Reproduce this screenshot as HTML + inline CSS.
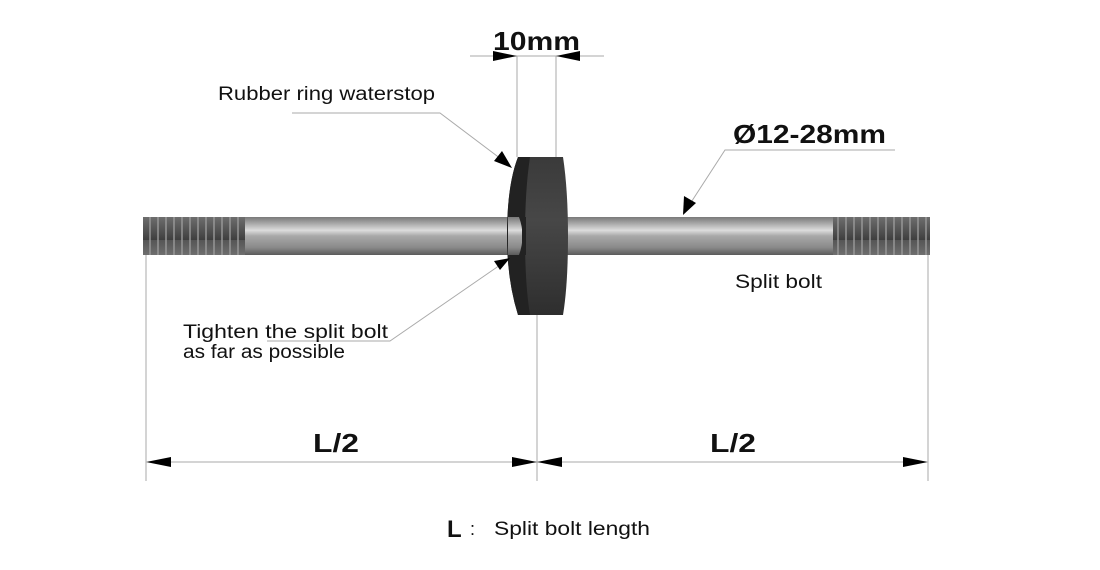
<!DOCTYPE html>
<html><head><meta charset="utf-8"><style>
html,body{margin:0;padding:0;background:#fff;}
svg{display:block;}
</style></head><body>
<svg width="1100" height="570" viewBox="0 0 1100 570" xmlns="http://www.w3.org/2000/svg">
<defs>
<linearGradient id="rod" x1="0" y1="0" x2="0" y2="1">
<stop offset="0" stop-color="#7a7a7a"/>
<stop offset="0.12" stop-color="#9a9a9a"/>
<stop offset="0.35" stop-color="#dcdcdc"/>
<stop offset="0.5" stop-color="#a8a8a8"/>
<stop offset="0.8" stop-color="#8a8a8a"/>
<stop offset="1" stop-color="#5a5a5a"/>
</linearGradient>
<linearGradient id="thr" x1="0" y1="0" x2="0" y2="1">
<stop offset="0" stop-color="#555"/>
<stop offset="0.4" stop-color="#707070"/>
<stop offset="1" stop-color="#3e3e3e"/>
</linearGradient>
<pattern id="tp" width="8" height="40" patternUnits="userSpaceOnUse">
<rect width="8" height="40" fill="url(#thr)"/>
<rect x="5" width="2" height="40" fill="#9a9a9a" opacity="0.7"/>
</pattern>
<linearGradient id="ringb" x1="0" y1="0" x2="0" y2="1">
<stop offset="0" stop-color="#3a3a3a"/>
<stop offset="0.4" stop-color="#474747"/>
<stop offset="1" stop-color="#2e2e2e"/>
</linearGradient>
</defs>

<rect x="143" y="217" width="382" height="38" fill="url(#rod)"/>
<rect x="143" y="217" width="102" height="38" fill="url(#tp)"/>
<rect x="560" y="217" width="370" height="38" fill="url(#rod)"/>
<rect x="833" y="217" width="97" height="38" fill="url(#tp)"/>

<!-- ring -->
<path d="M518 157 L563 157 Q568 190 568 236 Q568 285 563 315 L518 315 Q507 280 507 236 Q507 185 518 157 Z" fill="url(#ringb)"/>
<path d="M518 157 L530 157 Q525 190 525 236 Q525 285 530 315 L518 315 Q507 280 507 236 Q507 185 518 157 Z" fill="#222"/>
<rect x="508" y="217" width="14" height="38" fill="url(#rod)"/>
<path d="M519 217 Q526 236 519 255 L526 255 L526 217 Z" fill="#222"/>

<g stroke="#aaa" stroke-width="1" fill="none">
<line x1="470" y1="56" x2="604" y2="56"/>
<line x1="517" y1="56" x2="517" y2="157"/>
<line x1="556" y1="56" x2="556" y2="157"/>
<polyline points="292,113 440,113 505,162"/>
<polyline points="895,150 725,150 688,207"/>
<polyline points="267,341 390,341 503,263"/>
<line x1="146" y1="255" x2="146" y2="481"/>
<line x1="928" y1="255" x2="928" y2="481"/>
<line x1="537" y1="315" x2="537" y2="481"/>
<line x1="150" y1="462" x2="925" y2="462"/>
</g>
<g fill="#000">
<polygon points="493,51 517,56 493,61"/>
<polygon points="580,51 556,56 580,61"/>
<polygon points="146,462 171,457 171,467"/>
<polygon points="537,462 512,457 512,467"/>
<polygon points="537,462 562,457 562,467"/>
<polygon points="928,462 903,457 903,467"/>
<polygon points="512,168 494,161 502,151"/>
<polygon points="683,215 684,196 696,203"/>
<polygon points="510,258 500,270 494,261"/>
</g>

<g font-family="'Liberation Sans', sans-serif" fill="#111">
<text x="493" y="50" font-size="26" font-weight="bold" textLength="87" lengthAdjust="spacingAndGlyphs">10mm</text>
<text x="218" y="100" font-size="19" textLength="217" lengthAdjust="spacingAndGlyphs">Rubber ring waterstop</text>
<text x="733" y="143" font-size="26" font-weight="bold" textLength="153" lengthAdjust="spacingAndGlyphs">Ø12-28mm</text>
<text x="735" y="288" font-size="19" textLength="87" lengthAdjust="spacingAndGlyphs">Split bolt</text>
<text x="183" y="338" font-size="19" textLength="205" lengthAdjust="spacingAndGlyphs">Tighten the split bolt</text>
<text x="183" y="358" font-size="19" textLength="162" lengthAdjust="spacingAndGlyphs">as far as possible</text>
<text x="313" y="452" font-size="26" font-weight="bold" textLength="46" lengthAdjust="spacingAndGlyphs">L/2</text>
<text x="710" y="452" font-size="26" font-weight="bold" textLength="46" lengthAdjust="spacingAndGlyphs">L/2</text>
<text x="447" y="537" font-size="24" font-weight="bold">L</text>
<text x="470" y="535" font-size="18">:</text>
<text x="494" y="535" font-size="19" textLength="156" lengthAdjust="spacingAndGlyphs">Split bolt length</text>
</g>
</svg>
</body></html>
